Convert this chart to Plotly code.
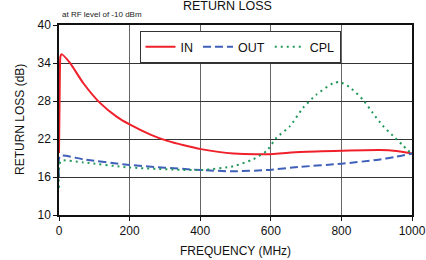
import plotly.graph_objects as go

# Data
in_freq = [0, 2, 4, 7, 30, 69, 116, 164, 200, 259, 307, 354, 402, 494, 588, 683, 800, 908, 955, 1000]
in_loss = [19.8, 30.0, 35.0, 35.4, 34.1, 30.8, 27.7, 25.5, 24.3, 22.7, 21.7, 21.0, 20.4, 19.7, 19.6, 19.95, 20.15, 20.25, 20.1, 19.7]

out_freq = [0, 3, 69, 200, 402, 494, 588, 683, 800, 900, 955, 1000]
out_loss = [16.0, 19.3, 18.8, 17.9, 17.1, 16.9, 17.1, 17.6, 18.1, 18.7, 19.2, 19.7]

cpl_freq = [0, 5, 69, 200, 402, 494, 550, 588, 616, 654, 691, 729, 776, 795, 823, 861, 889, 917, 946, 974, 1000]
cpl_loss = [14.3, 18.5, 18.3, 17.5, 17.1, 17.7, 18.8, 20.1, 22.2, 24.0, 26.9, 29.0, 30.8, 31.0, 30.2, 28.2, 26.1, 24.1, 22.5, 21.0, 19.6]

x_ticks = [0, 200, 400, 600, 800, 1000]
y_ticks = [10, 16, 22, 28, 34, 40]

FONT = "Liberation Sans, Arial, sans-serif"
L, R, T, B = 59, 14, 25, 45
W, H = 426, 260
PW, PH = W - L - R, H - T - B


def px_x(px):
    return (px - L) / PW


def px_y(py):
    return (H - B - py) / PH


fig = go.Figure()
fig.add_trace(go.Scatter(x=in_freq, y=in_loss, name="IN", mode="lines",
                         line=dict(color="#f0202a", width=2, shape="spline", smoothing=0.6)))
fig.add_trace(go.Scatter(x=out_freq, y=out_loss, name="OUT", mode="lines",
                         line=dict(color="#3f60b8", width=2, dash="8px,4px", shape="spline", smoothing=0.6)))
fig.add_trace(go.Scatter(x=cpl_freq, y=cpl_loss, name="CPL", mode="lines",
                         line=dict(color="#22995a", width=2, dash="2px,4px", shape="spline", smoothing=0.6)))

fig.update_layout(
    width=W, height=H,
    margin=dict(l=L, r=R, t=T, b=B, autoexpand=False),
    paper_bgcolor="white", plot_bgcolor="white",
    font=dict(family=FONT, size=12, color="#111"),
    showlegend=True,
    legend=dict(orientation="h", x=px_x(240), y=px_y(31), xanchor="center", yanchor="top",
                bgcolor="white", bordercolor="#333", borderwidth=1,
                font=dict(size=12.5, family=FONT), tracegroupgap=0,
                itemwidth=30),
    annotations=[
        dict(text="RETURN LOSS", xref="paper", yref="paper", x=px_x(227), y=px_y(6),
             xanchor="center", yanchor="middle", showarrow=False,
             font=dict(size=12.5, family=FONT, color="#111")),
        dict(text="at RF level of -10 dBm", xref="paper", yref="paper", x=px_x(60), y=px_y(14),
             xanchor="left", yanchor="middle", showarrow=False,
             font=dict(size=8, family=FONT, color="#222")),
        dict(text="FREQUENCY (MHz)", xref="paper", yref="paper", x=px_x(235), y=px_y(251),
             xanchor="center", yanchor="middle", showarrow=False,
             font=dict(size=12, family=FONT, color="#111")),
        dict(text="RETURN LOSS (dB)", xref="paper", yref="paper", x=px_x(20), y=px_y(120),
             xanchor="center", yanchor="middle", showarrow=False, textangle=-90,
             font=dict(size=12, family=FONT, color="#111")),
    ],
)

fig.update_xaxes(range=[0, 1000], tickvals=x_ticks, ticks="outside", ticklen=4, tickcolor="#111",
                 showgrid=True, gridcolor="#666", gridwidth=1, zeroline=False, automargin=False,
                 showline=True, linecolor="#111", linewidth=1.5, mirror=True,
                 tickfont=dict(size=12))
fig.update_yaxes(range=[10, 40], tickvals=y_ticks, ticks="outside", ticklen=4, tickcolor="#111",
                 showgrid=True, gridcolor="#333", gridwidth=1, zeroline=False, automargin=False,
                 showline=True, linecolor="#111", linewidth=1.5, mirror=True,
                 tickfont=dict(size=12))

fig.write_html("out.html", config={"displayModeBar": False},
               post_script="document.body.style.margin='0';")
